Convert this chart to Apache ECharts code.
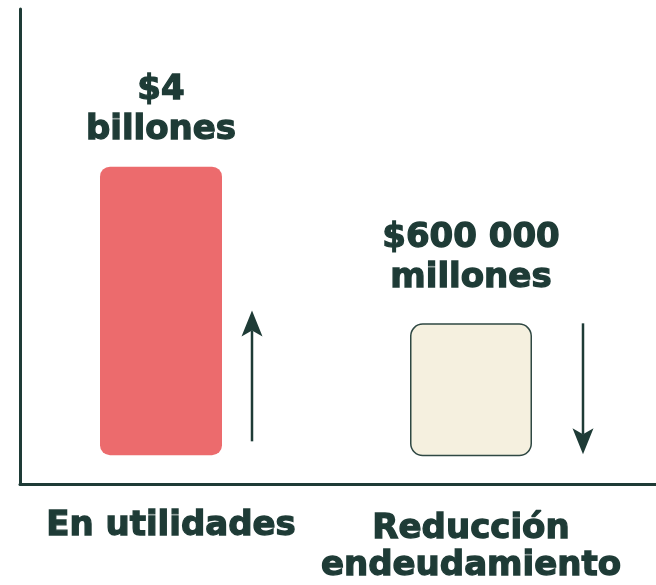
<!DOCTYPE html>
<html>
<head>
<meta charset="utf-8">
<script src="https://cdn.jsdelivr.net/npm/echarts@6/dist/echarts.min.js"></script>
<style>
html,body{margin:0;padding:0;background:#ffffff;}
#chart{width:656px;height:585px;}
</style>
</head>
<body>
<div id="chart"></div>
<script>
// ---- data (illustrative scale) ----
const categories = ['En utilidades', 'Reducción\nendeudamiento'];
const barBase = [25, 24];          // gap between axis and bar bottom
const barHeight = [291, 134];      // visual bar height
const valueLabels = ['$4\nbillones', '$600 000\nmillones'];
const arrowStart = [39, 158];      // arrow tail
const arrowEnd = [171, 26];        // arrow tip

// ---- styles ----
const DARK = '#1e3b36';
const FONT = 'DejaVu Sans';
const barColors = ['#ec6b6d', '#f5f0df'];
const barBorders = [0, 1.5];
const labelDistance = [16, 25];
const arrowOffsets = [91, 112];
const labelPads = [[0, 0, 0, 20], [3, 0, 0, 0]];

const chart = echarts.init(document.getElementById('chart'), null, {renderer: 'canvas'});

const option = {
  animation: false,
  backgroundColor: '#ffffff',
  grid: [
    {left: 6, right: 30, top: 9, bottom: 101},
    {left: 20, right: 0, top: 9, bottom: 101}
  ],
  xAxis: [
    {
      type: 'category', gridIndex: 0,
      data: categories.map((c, i) => ({value: c, textStyle: {padding: labelPads[i]}})),
      axisLine: {show: false}, axisTick: {show: false},
      axisLabel: {
        color: DARK, fontFamily: FONT, fontWeight: 'bold', fontSize: 34,
        lineHeight: 37, margin: 28, interval: 0,
        textBorderColor: DARK, textBorderWidth: 1.3
      }
    },
    {
      type: 'category', gridIndex: 1, data: categories,
      axisLine: {show: true, lineStyle: {color: DARK, width: 3}},
      axisTick: {show: false}, axisLabel: {show: false}
    }
  ],
  yAxis: [
    {
      type: 'value', gridIndex: 0, min: 0, max: 475,
      axisLine: {show: false}, axisTick: {show: false},
      axisLabel: {show: false}, splitLine: {show: false}
    },
    {
      type: 'value', gridIndex: 1, min: 0, max: 475,
      axisLine: {show: true, lineStyle: {color: DARK, width: 3}},
      axisTick: {show: false}, axisLabel: {show: false}, splitLine: {show: false}
    }
  ],
  series: [
    {
      type: 'bar', stack: 'a', xAxisIndex: 0, yAxisIndex: 0,
      barWidth: 122, silent: true,
      itemStyle: {color: 'transparent'},
      data: barBase
    },
    {
      type: 'bar', stack: 'a', xAxisIndex: 0, yAxisIndex: 0,
      barWidth: 122,
      data: barHeight.map((v, i) => ({
        value: v,
        itemStyle: {
          color: barColors[i],
          borderColor: barBorders[i] ? '#2f4843' : 'transparent',
          borderWidth: barBorders[i],
          borderRadius: i === 0 ? 10 : 12
        },
        label: {
          show: true, position: 'top', distance: labelDistance[i],
          formatter: valueLabels[i],
          color: DARK, fontFamily: FONT, fontWeight: 'bold', fontSize: 34,
          lineHeight: 40, align: 'center',
          textBorderColor: DARK, textBorderWidth: 1.3
        }
      }))
    },
    {
      type: 'custom', xAxisIndex: 0, yAxisIndex: 0,
      data: categories.map((c, i) => [i, arrowStart[i], arrowEnd[i]]),
      renderItem: function (params, api) {
        const idx = api.value(0);
        const x = api.coord([idx, 0])[0] + arrowOffsets[params.dataIndex];
        const y0 = api.coord([idx, api.value(1)])[1];
        const y1 = api.coord([idx, api.value(2)])[1];
        const dir = y1 > y0 ? 1 : -1;
        const headLen = 26, halfW = 10.5, notch = 20;
        return {
          type: 'group',
          children: [
            {
              type: 'line',
              shape: {x1: x, y1: y0, x2: x, y2: y1 - dir * notch},
              style: {stroke: DARK, lineWidth: 2.5}
            },
            {
              type: 'polygon',
              shape: {points: [
                [x, y1],
                [x - halfW, y1 - dir * headLen],
                [x, y1 - dir * notch],
                [x + halfW, y1 - dir * headLen]
              ]},
              style: {fill: DARK}
            }
          ]
        };
      }
    }
  ]
};
chart.setOption(option);
</script>
</body>
</html>
